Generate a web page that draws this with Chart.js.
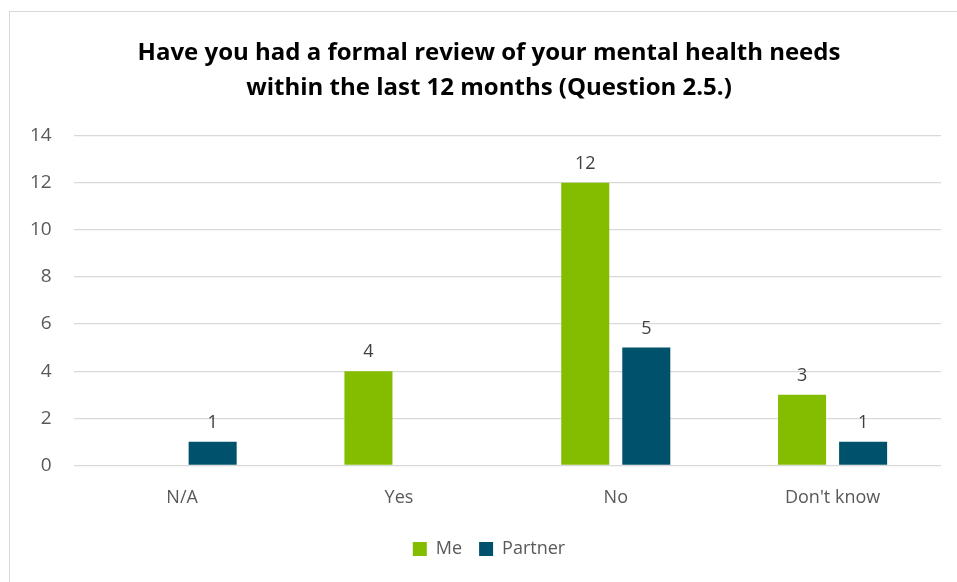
<!DOCTYPE html>
<html>
<head>
<meta charset="utf-8">
<script src="https://cdn.jsdelivr.net/npm/chart.js@4"></script>
<style>
  html, body { margin: 0; padding: 0; background: #fff; overflow: hidden; }
  #wrap { position: absolute; left: 9px; top: 11px; width: 960px; height: 580px; border: 1px solid #d9d9d9; box-sizing: border-box; }
  #chart { display: block; }
</style>
</head>
<body>
<div id="wrap"><canvas id="chart" width="958" height="578"></canvas></div>
<script>
const categories = ["N/A", "Yes", "No", "Don't know"];
const meValues = [null, 4, 12, 3];
const partnerValues = [1, null, 5, 1];
const yTicks = [0, 2, 4, 6, 8, 10, 12, 14];

// draws the value above each bar
const barLabels = {
  id: "barLabels",
  afterDatasetsDraw(chart) {
    const ctx = chart.ctx;
    ctx.save();
    ctx.font = "18px 'Open Sans', sans-serif";
    ctx.fillStyle = "#404040";
    ctx.textAlign = "center";
    ctx.textBaseline = "bottom";
    chart.data.datasets.forEach((ds, i) => {
      chart.getDatasetMeta(i).data.forEach((bar, j) => {
        if (ds.data[j] == null) return;
        ctx.fillText(ds.data[j], bar.x, bar.y - 10);
      });
    });
    ctx.restore();
  }
};

new Chart(document.getElementById("chart"), {
  type: "bar",
  data: {
    labels: categories,
    datasets: [
      { label: "Me", data: meValues, backgroundColor: "#84bc00" },
      { label: "Partner", data: partnerValues, backgroundColor: "#00526c" }
    ]
  },
  options: {
    responsive: false,
    animation: false,
    layout: { padding: { left: 14, right: 14, top: 4, bottom: 22 } },
    datasets: { bar: { categoryPercentage: 0.563, barPercentage: 0.787 } },
    scales: {
      y: {
        min: 0,
        max: 14,
        afterBuildTicks: axis => { axis.ticks = yTicks.map(v => ({ value: v })); },
        afterFit: axis => { axis.width -= 16; },
        border: { display: false },
        grid: { color: "#d9d9d9", lineWidth: 1.3, drawTicks: false },
        ticks: { color: "#595959", font: { family: "'Open Sans', sans-serif", size: 19 }, padding: 22 }
      },
      // empty right-hand spacer so the plot stops short of the frame
      yRight: {
        position: "right",
        border: { display: false },
        grid: { display: false, drawTicks: false },
        ticks: { display: false },
        afterFit: axis => { axis.width = 13; }
      },
      x: {
        border: { display: false },
        grid: { display: false },
        ticks: { color: "#595959", font: { family: "'Open Sans', sans-serif", size: 18 }, padding: 14 }
      }
    },
    plugins: {
      title: {
        display: true,
        text: ["Have you had a formal review of your mental health needs", "within the last 12 months (Question 2.5.)"],
        color: "#000",
        font: { family: "'Open Sans', sans-serif", size: 24, weight: "bold", lineHeight: 1.45 },
        padding: { top: 20, bottom: 30 }
      },
      legend: {
        position: "bottom",
        labels: { color: "#595959", font: { family: "'Open Sans', sans-serif", size: 18 }, boxWidth: 14, boxHeight: 14, padding: 17 }
      },
      tooltip: { enabled: false }
    }
  },
  plugins: [barLabels]
});
</script>
</body>
</html>
